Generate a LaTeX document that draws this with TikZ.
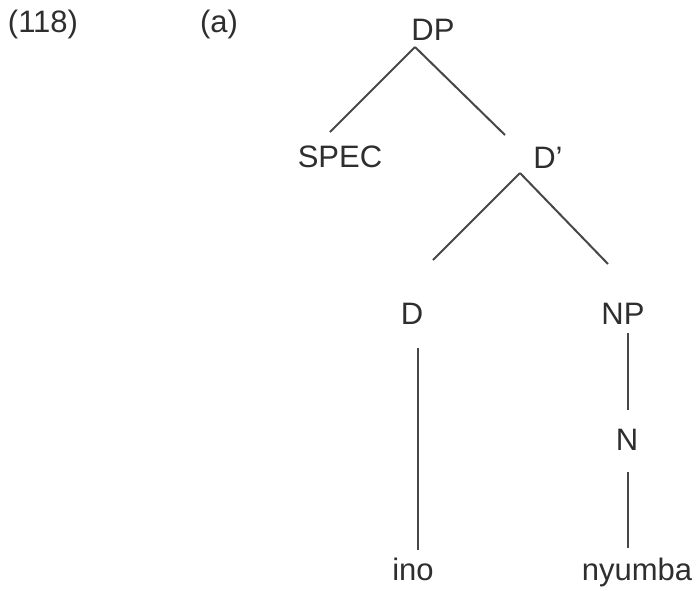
\documentclass[tikz,border=0pt]{standalone}
\usepackage{fontspec}
\setmainfont{Liberation Sans}
\begin{document}
\begin{tikzpicture}[
        x=1pt, y=-1pt, % координаты в пикселях, ось y вниз
        cat/.style = {anchor=base, inner sep=0pt, text=black!82, font=\fontsize{31}{37}\selectfont}, % Стиль узлов
        branch/.style = {draw=black!72, line width=2pt}, % Ветви дерева
    ]
    \useasboundingbox (0,0) rectangle (697,590);

    \node[cat] (num) at (43,32) {(118)};
    \node[cat] (sub) at (219,32) {(a)};

    \node[cat] (dp) at (433,40) {DP};
    \node[cat] (spec) at (340,167) {SPEC};
    \node[cat] (dbar) at (548,168) {D’};
    \node[cat] (d) at (412,324) {D};
    \node[cat] (np) at (623,324) {NP};
    \node[cat] (n) at (627,450) {N};
    \node[cat] (ino) at (413,580) {ino};
    \node[cat] (nyumba) at (637,580) {nyumba};

    \draw[branch] ([shift={(-18,7)}]dp.base) -- ([shift={(-10,-35)}]spec.base);
    \draw[branch] ([shift={(-18,7)}]dp.base) -- ([shift={(-43,-33)}]dbar.base);
    \draw[branch] ([shift={(-28,5)}]dbar.base) -- ([shift={(21,-64)}]d.base);
    \draw[branch] ([shift={(-28,5)}]dbar.base) -- ([shift={(-15,-60)}]np.base);
    \draw[branch] ([shift={(6,24)}]d.base) -- ([shift={(5,-30)}]ino.base);
    \draw[branch] ([shift={(5,9)}]np.base) -- ([shift={(1,-40)}]n.base);
    \draw[branch] ([shift={(1,22)}]n.base) -- ([shift={(-9,-32)}]nyumba.base);
\end{tikzpicture}
\end{document}
